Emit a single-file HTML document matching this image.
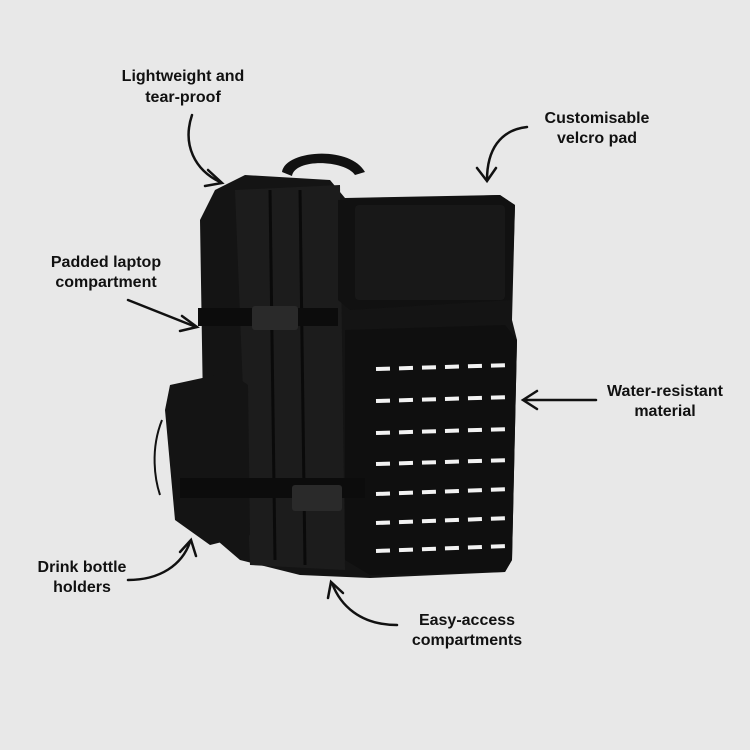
<!DOCTYPE html>
<html><head><meta charset="utf-8"><style>
html,body{margin:0;padding:0;background:#e8e8e8;}
svg{display:block}
text{font-family:"Liberation Sans",sans-serif;font-weight:bold;font-size:16px;fill:#111;text-anchor:middle}
</style></head><body>
<svg width="750" height="750" viewBox="0 0 750 750">
<rect width="750" height="750" fill="#e8e8e8"/>
<text x="183" y="81">Lightweight and</text>
<text x="183" y="102">tear-proof</text>
<text x="597" y="123">Customisable</text>
<text x="597" y="143">velcro pad</text>
<text x="106" y="267">Padded laptop</text>
<text x="106" y="287">compartment</text>
<text x="665" y="396">Water-resistant</text>
<text x="665" y="416">material</text>
<text x="82" y="572">Drink bottle</text>
<text x="82" y="592">holders</text>
<text x="467" y="625">Easy-access</text>
<text x="467" y="645">compartments</text>
<g stroke="#111" stroke-width="2.5" fill="none" stroke-linecap="round">
<path d="M192 115 C182 145 195 170 220 182"/><path d="M208 170 L222 183 L205 186"/>
<path d="M527 127 C500 130 487 150 487 180"/><path d="M477 168 L487 181 L496 168"/>
<path d="M128 300 L196 327"/><path d="M182 316 L197 327 L180 331"/>
<path d="M596 400 L524 400"/><path d="M537 391 L523 400 L537 409"/>
<path d="M128 580 C160 580 182 565 190 542"/><path d="M180 552 L191 540 L196 556"/>
<path d="M397 625 C360 625 340 605 332 583"/><path d="M328 598 L331 582 L343 593"/>
</g>
<!-- backpack -->
<path d="M282 172 C285 150 350 145 365 172 L355 175 C345 160 295 158 292 176Z" fill="#111"/>
<!-- unified base silhouette -->
<path d="M215 190 L245 175 L330 180 L345 198 L500 195 L515 205 L512 320 L517 340 L512 560 L505 572 L370 578 L300 575 L240 560 L205 530 L200 220Z" fill="#141414"/>
<path d="M235 190 L340 185 L345 570 L250 565Z" fill="#1c1c1c"/>
<path d="M270 190 L275 560" stroke="#0a0a0a" stroke-width="3"/>
<path d="M300 190 L305 565" stroke="#0a0a0a" stroke-width="3"/>
<path d="M338 200 L500 195 L515 205 L512 300 L350 310 L338 300Z" fill="#111"/>
<rect x="355" y="205" width="150" height="95" fill="#181818" rx="4"/>
<path d="M345 330 L505 325 L517 340 L512 560 L505 572 L370 575 L345 560Z" fill="#0f0f0f"/>
<g stroke="#f2f2f2" stroke-width="4" stroke-dasharray="14 9">
<path d="M376 369 L512 365"/><path d="M376 401 L512 397"/><path d="M376 433 L512 429"/>
<path d="M376 464 L512 460"/><path d="M376 494 L512 489"/><path d="M376 523 L510 518"/>
<path d="M376 551 L508 546"/>
</g>
<path d="M170 385 L230 372 L248 385 L250 535 L210 545 L175 520 L165 410Z" fill="#141414"/>
<rect x="198" y="308" width="140" height="18" fill="#0c0c0c"/>
<rect x="252" y="306" width="46" height="24" rx="3" fill="#2a2a2a"/>
<rect x="180" y="478" width="185" height="20" fill="#0c0c0c"/>
<rect x="292" y="485" width="50" height="26" rx="3" fill="#2a2a2a"/>
<path d="M162 420 C150 450 155 480 160 495" stroke="#111" stroke-width="2" fill="none"/>
</svg>
</body></html>
